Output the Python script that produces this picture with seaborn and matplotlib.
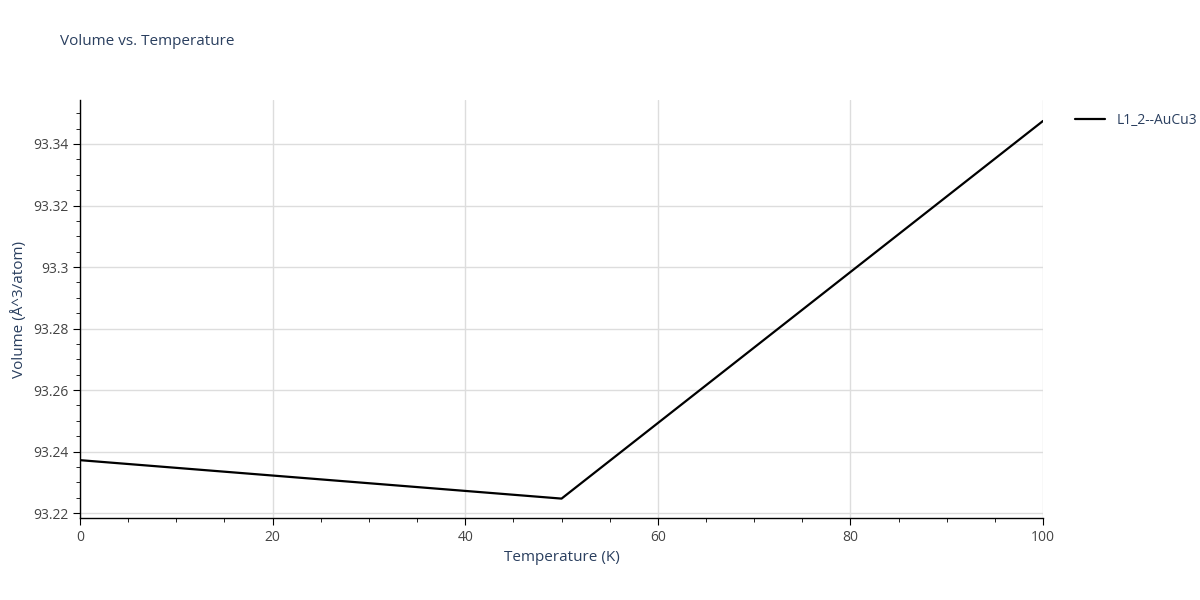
import matplotlib
matplotlib.use('Agg')
import matplotlib.pyplot as plt
import seaborn as sns
import pandas as pd
from matplotlib.ticker import MultipleLocator

# data
temperature = [0, 50, 100]
volume = [93.2372, 93.2247, 93.3475]
series_name = 'L1_2--AuCu3'

df = pd.DataFrame({'Temperature (K)': temperature, 'Volume': volume, 'structure': series_name})

sns.set_style('white')
plt.rcParams['font.family'] = ['Open Sans', 'DejaVu Sans']
text_color = '#2a3f5f'

fig = plt.figure(figsize=(12, 6), dpi=100)
ax = fig.add_axes([0.0667, 0.1367, 0.8025, 0.6966])
sns.lineplot(data=df, x='Temperature (K)', y='Volume', hue='structure',
             palette=['black'], linewidth=1.6, ax=ax)

ax.set_xlim(0, 100)
ax.set_ylim(93.2184, 93.3543)
ax.xaxis.set_major_locator(MultipleLocator(20))
ax.xaxis.set_minor_locator(MultipleLocator(5))
ax.yaxis.set_major_locator(MultipleLocator(0.02))
ax.yaxis.set_minor_locator(MultipleLocator(0.005))
ax.yaxis.set_major_formatter(plt.FuncFormatter(lambda v, p: f'{v:.2f}'.rstrip('0').rstrip('.') if f'{v:.2f}'.endswith('0') else f'{v:.2f}'))
ax.grid(True, which='major', color='#dddddd', linewidth=1)
for s in ['top', 'right']:
    ax.spines[s].set_visible(False)
for s in ['left', 'bottom']:
    ax.spines[s].set_color('black')
    ax.spines[s].set_linewidth(1)
ax.tick_params(which='major', direction='out', length=5, color='black', labelsize=10, labelcolor='#444444', left=True, bottom=True)
ax.tick_params(which='minor', direction='out', length=3, color='black', left=True, bottom=True)

ax.set_xlabel('Temperature (K)', fontsize=11, color=text_color)
ax.set_ylabel('Volume (Å^3/atom)', fontsize=11, color=text_color)
fig.text(0.05, 0.925, 'Volume vs. Temperature', fontsize=11, color=text_color)

leg = ax.legend(loc='upper left', bbox_to_anchor=(1.02, 1.0), frameon=False, fontsize=10, handlelength=2.2)
for t in leg.get_texts():
    t.set_color(text_color)

fig.savefig('out.png', dpi=100)
